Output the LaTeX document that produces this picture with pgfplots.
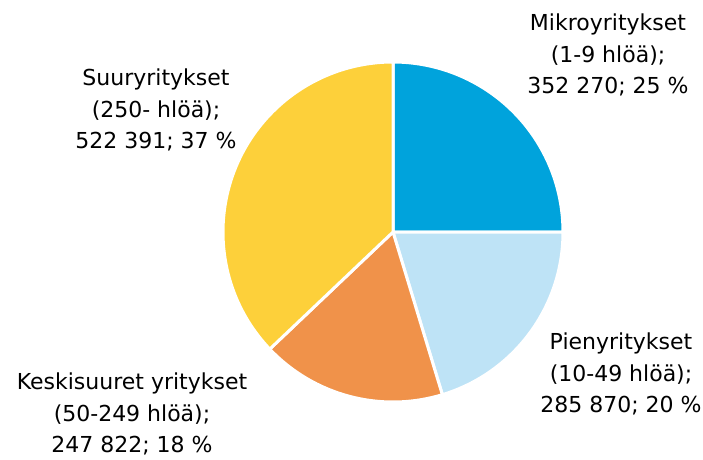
\documentclass[border=0pt]{standalone}
\usepackage{pgfplots}
\usepackage{pgfplotstable}
\pgfplotsset{compat=1.18}
\usepackage{fontspec}
\setmainfont{DejaVu Sans}
\definecolor{micro}{HTML}{00A3DC}
\definecolor{pieni}{HTML}{BEE3F6}
\definecolor{keski}{HTML}{F0924A}
\definecolor{suur}{HTML}{FDD03A}
\pgfplotstableread{
value
352270
285870
247822
522391
}\piedata
\begin{document}
\begin{tikzpicture}
\pgfplotstablegetelem{0}{value}\of\piedata \let\va\pgfplotsretval
\pgfplotstablegetelem{1}{value}\of\piedata \let\vb\pgfplotsretval
\pgfplotstablegetelem{2}{value}\of\piedata \let\vc\pgfplotsretval
\pgfplotstablegetelem{3}{value}\of\piedata \let\vd\pgfplotsretval
\edef\total{\fpeval{\va+\vb+\vc+\vd}}
\edef\aA{\fpeval{round(90-360*\va/\total,4)}}
\edef\aB{\fpeval{round(\aA-360*\vb/\total,4)}}
\edef\aC{\fpeval{round(\aB-360*\vc/\total,4)}}
\begin{axis}[scale only axis, x=1pt, y=1pt,
  xmin=-393, xmax=310, ymin=-227, ymax=232,
  hide axis, clip=false]
\filldraw[fill=micro, draw=white, line width=3pt, line join=round] (axis cs:0,0) -- ++(90:170pt) arc[start angle=90, end angle=\aA, radius=170pt] -- cycle;
\filldraw[fill=pieni, draw=white, line width=3pt, line join=round] (axis cs:0,0) -- ++(\aA:170pt) arc[start angle=\aA, end angle=\aB, radius=170pt] -- cycle;
\filldraw[fill=keski, draw=white, line width=3pt, line join=round] (axis cs:0,0) -- ++(\aB:170pt) arc[start angle=\aB, end angle=\aC, radius=170pt] -- cycle;
\filldraw[fill=suur, draw=white, line width=3pt, line join=round] (axis cs:0,0) -- ++(\aC:170pt) arc[start angle=\aC, end angle=-270, radius=170pt] -- cycle;
\tikzset{lbl/.style={align=center, inner sep=0pt, font=\fontsize{22}{31.5}\selectfont}}
\node[lbl] at (axis cs:215,177) {Mikroyritykset\\(1-9 hlöä);\\352 270; 25 \%};
\node[lbl] at (axis cs:228,-142) {Pienyritykset\\(10-49 hlöä);\\285 870; 20 \%};
\node[lbl] at (axis cs:-261,-182) {Keskisuuret yritykset\\(50-249 hlöä);\\247 822; 18 \%};
\node[lbl] at (axis cs:-237,122) {Suuryritykset\\(250- hlöä);\\522 391; 37 \%};
\end{axis}
\pgfresetboundingbox
\path (current axis.south west) rectangle (current axis.north east);
\end{tikzpicture}
\end{document}
